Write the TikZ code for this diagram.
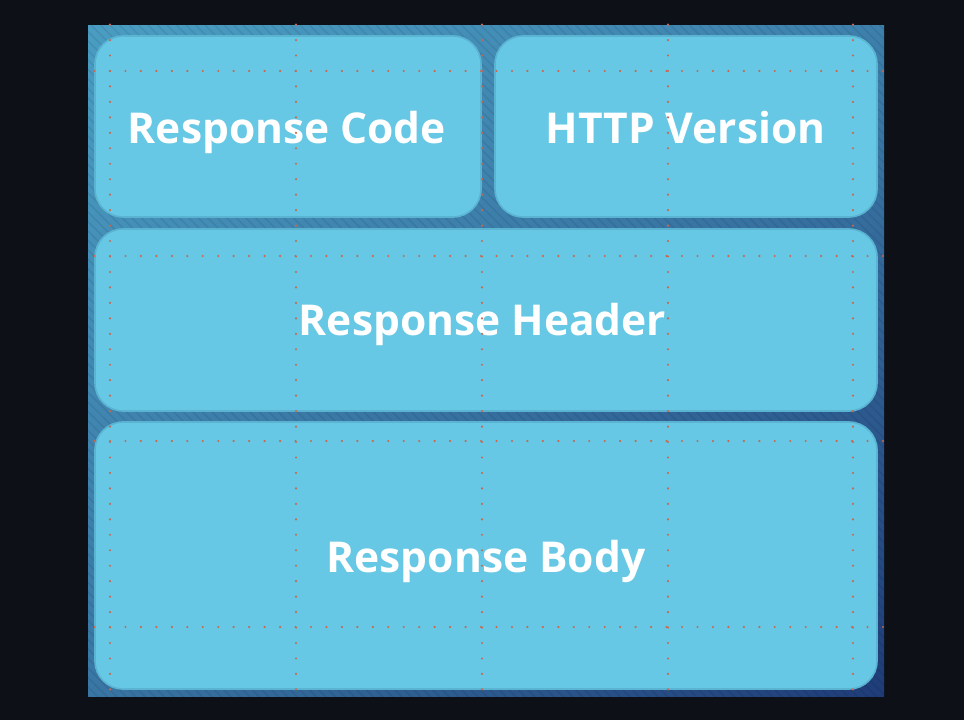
\documentclass[tikz,border=0pt]{standalone}
\usepackage{fontspec}
\setmainfont{Open Sans}
\usetikzlibrary{shadings}
\definecolor{pagebg}{HTML}{0D1117}
\definecolor{boxfill}{HTML}{66C8E4}
\definecolor{boxline}{HTML}{5BB3D2}
\definecolor{paneltl}{HTML}{4A9DC2}
\definecolor{panelbr}{HTML}{1F3C78}
\definecolor{gridred}{HTML}{C8684E}
\tikzset{
  cell/.style={draw=boxline, line width=1.6pt, fill=boxfill, rounded corners=28pt},
  celltext/.style={text=white, anchor=base, inner sep=0pt, font=\fontsize{42.5}{50}\selectfont\bfseries},
  griddots/.style={gridred, line width=2.4pt, line cap=round, dash pattern=on 0pt off 15.46pt},
}
\begin{document}
\begin{tikzpicture}[x=1pt,y=-1pt]
\useasboundingbox (0,0) rectangle (964,720);
\fill[pagebg] (0,0) rectangle (964,720);
% panel
\shade[upper left=paneltl, upper right=paneltl!70!panelbr, lower left=paneltl!60!panelbr, lower right=panelbr] (88,25) rectangle (884,696);
\begin{scope}
\clip (88,25) rectangle (884,696);
\foreach \i in {0,...,170} {
  \draw[black, opacity=0.07, line width=1.5pt] (88+\i*9.5-700, 25) -- ++(700,700);
}
\end{scope}
% boxes
\draw[cell] (95,36) rectangle (481,217);
\draw[cell] (495,36) rectangle (877,217);
\draw[cell] (95,229) rectangle (877,411);
\draw[cell] (95,422) rectangle (877,689);
\node[celltext] (codet) at (287,143) {Response Code};
\node[celltext] (vert) at (685.5,143) {HTTP Version};
\node[celltext] (headt) at (482.5,335) {Response Header};
\node[celltext] (bodyt) at (486,572) {Response Body};
% dotted grid
\foreach \x in {110,296,482,668,853} {
  \draw[griddots] (\x,24.6) -- (\x,697);
}
\foreach \y in {71,256,441,627} {
  \draw[griddots] (94.54,\y) -- (885,\y);
}
\end{tikzpicture}
\end{document}
